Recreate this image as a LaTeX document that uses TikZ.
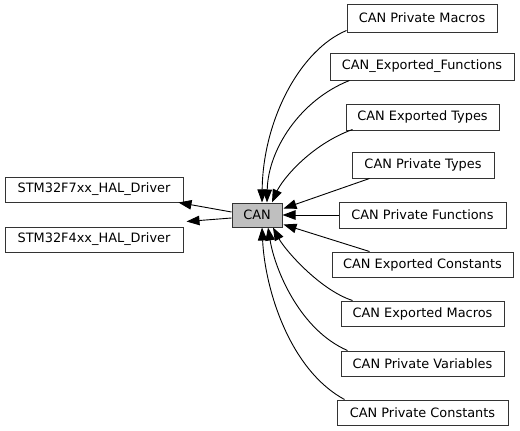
\documentclass[tikz,border=0pt]{standalone}
\usepackage{fontspec}
\setmainfont{DejaVu Sans}
\usetikzlibrary{arrows.meta,calc}
\begin{document}
\begin{tikzpicture}[x=1pt,y=-1pt,
 box/.style={draw=black!80, line width=1pt, fill=white, inner sep=0pt, font=\fontsize{12.9}{15}\selectfont, text=black},
 edge/.style={line width=0.9pt, draw=black, -{Triangle[length=13pt,width=9.5pt]}}]
\useasboundingbox (0,0) rectangle (520,431);
\node[box, minimum width=150pt, minimum height=28pt] (m) at (422,18) {CAN Private Macros};
\node[box, minimum width=184pt, minimum height=27pt] (ef) at (422,66.5) {CAN\_Exported\_Functions};
\node[box, minimum width=153pt, minimum height=26pt] (et) at (422.5,117) {CAN Exported Types};
\node[box, minimum width=142pt, minimum height=26pt] (pt) at (423,165) {CAN Private Types};
\node[box, minimum width=167pt, minimum height=26pt] (pf) at (422.5,215) {CAN Private Functions};
\node[box, minimum width=181pt, minimum height=25pt] (ec) at (422.5,264.5) {CAN Exported Constants};
\node[box, minimum width=163pt, minimum height=25pt] (em) at (422.5,313.5) {CAN Exported Macros};
\node[box, minimum width=163pt, minimum height=25pt] (pv) at (422.5,363.5) {CAN Private Variables};
\node[box, minimum width=171pt, minimum height=25pt] (pc) at (422.5,412.5) {CAN Private Constants};
\node[box, minimum width=178pt, minimum height=25pt] (f7) at (94,189.5) {STM32F7xx\_HAL\_Driver};
\node[box, minimum width=178pt, minimum height=25pt] (f4) at (94,239.5) {STM32F4xx\_HAL\_Driver};
\node[box, fill=black!25, minimum width=50pt, minimum height=24pt] (can) at (257,215) {CAN};
% edges into CAN
\draw[edge] ($(m.south west)+(0,-2)$) .. controls (300,50) and (263,120) .. ($(can.north)+(5,0)$);
\draw[edge] ($(ef.south west)+(20,0)$) .. controls (300,100) and (268,150) .. ($(can.north)+(10,0)$);
\draw[edge] ($(et.south west)+(7,-1)$) .. controls (310,145) and (282,180) .. ($(can.north)+(15,0)$);
\draw[edge] ($(pt.south west)+(18,0)$) -- ($(can.north east)+(1,6)$);
\draw[edge] (pf.west) -- (can.east);
\draw[edge] ($(ec.north west)+(38,0)$) -- ($(can.south east)+(1,-3)$);
\draw[edge] ($(em.north west)+(12,0)$) .. controls (320,290) and (285,250) .. ($(can.south)+(16,0)$);
\draw[edge] ($(pv.north west)+(7,0)$) .. controls (300,330) and (275,270) .. ($(can.south)+(11,0)$);
\draw[edge] ($(pc.north west)+(8,0)$) .. controls (290,370) and (265,290) .. ($(can.south)+(5,0)$);
% edges out of CAN
\draw[edge] ($(can.west)+(0,-3)$) -- ($(f7.south east)+(-5,0)$);
\draw[edge] ($(can.west)+(0,3)$) -- ($(f4.north east)+(3,-5)$);
\end{tikzpicture}
\end{document}
